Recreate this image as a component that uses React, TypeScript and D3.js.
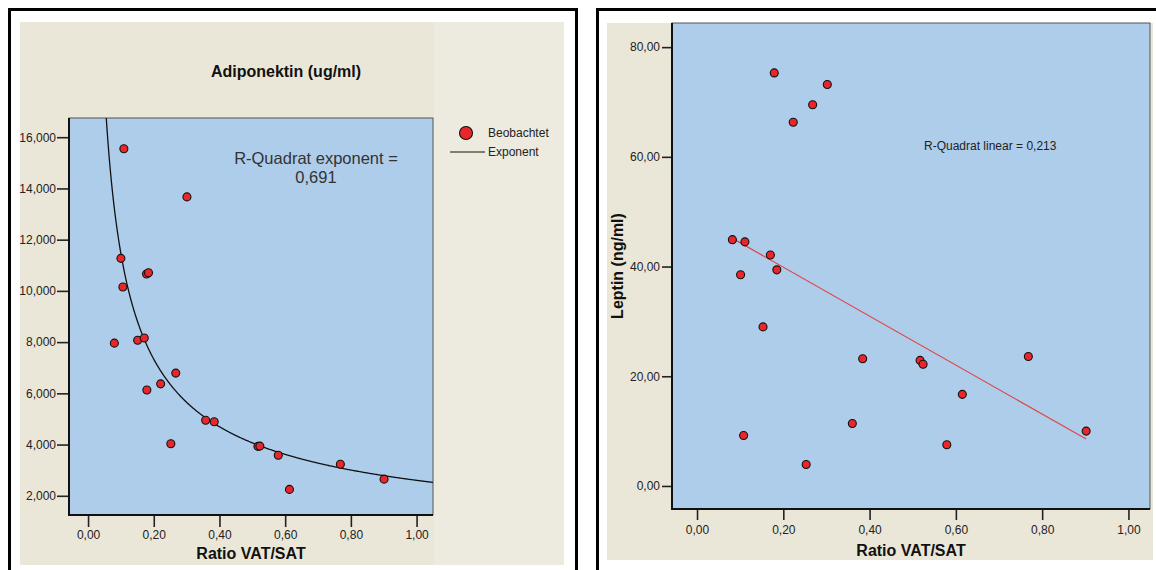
import * as d3 from 'd3';
import { useEffect, useRef } from 'react';

// Adiponektin vs Ratio VAT/SAT
const ratioAdipo = [0.109, 0.301, 0.1, 0.178, 0.184, 0.106, 0.08, 0.151, 0.171, 0.179, 0.221, 0.267, 0.252, 0.358, 0.384, 0.517, 0.523, 0.579, 0.613, 0.768, 0.901];
const adiponektin = [15.55, 13.67, 11.27, 10.66, 10.71, 10.15, 7.96, 8.07, 8.16, 6.13, 6.37, 6.79, 4.03, 4.95, 4.89, 3.93, 3.94, 3.58, 2.25, 3.23, 2.65];

// Leptin vs Ratio VAT/SAT
const ratioLeptin = [0.179, 0.302, 0.268, 0.223, 0.082, 0.111, 0.17, 0.101, 0.185, 0.153, 0.384, 0.517, 0.524, 0.768, 0.615, 0.36, 0.902, 0.108, 0.579, 0.253];
const leptin = [75.3, 73.2, 69.5, 66.3, 44.9, 44.5, 42.1, 38.5, 39.4, 29.0, 23.2, 22.9, 22.2, 23.6, 16.7, 11.4, 10.0, 9.2, 7.5, 3.9];

const ratioTicks = [0, 0.2, 0.4, 0.6, 0.8, 1.0];
const adipoTicks = [2, 4, 6, 8, 10, 12, 14, 16];
const leptinTicks = [0, 20, 40, 60, 80];

const FONT = "'Liberation Sans', Arial, sans-serif";
const BLUE = '#aecdeb';
const BEIGE = '#ebe7d8';
const RED = '#e8262b';

const comma = (spec) => (v) => d3.format(spec)(v).replace('.', ',');

export default function App() {
  const chartRef = useRef(null);

  useEffect(() => {
    const svg = d3.select(chartRef.current);
    svg.selectAll('*').remove();

    // ---------- frames ----------
    svg.append('rect').attr('x', 9.5).attr('y', 9.5).attr('width', 567).attr('height', 600)
      .style('fill', 'none').style('stroke', '#000').style('stroke-width', 3);
    svg.append('rect').attr('x', 20).attr('y', 22).attr('width', 544).attr('height', 543).style('fill', BEIGE);
    svg.append('rect').attr('x', 434).attr('y', 22).attr('width', 130).attr('height', 543).style('fill', '#edeadf');

    svg.append('rect').attr('x', 597.5).attr('y', 9.5).attr('width', 600).attr('height', 600)
      .style('fill', 'none').style('stroke', '#000').style('stroke-width', 3);
    svg.append('rect').attr('x', 607).attr('y', 23).attr('width', 546).attr('height', 537).style('fill', BEIGE);

    const drawAxes = (g, x, y, yTicks, yFmt, opt) => {
      const [x0, x1] = x.range();
      const [y0, y1] = y.range();
      g.append('rect').attr('x', x0).attr('y', y1).attr('width', x1 - x0).attr('height', y0 - y1)
        .style('fill', BLUE).style('stroke', '#555').style('stroke-width', 1);

      const ya = g.append('g').attr('transform', `translate(${x0},0)`)
        .call(d3.axisLeft(y).tickValues(yTicks).tickSize(opt.yTick).tickPadding(opt.yPad).tickFormat(yFmt));
      const xa = g.append('g').attr('transform', `translate(0,${y0})`)
        .call(d3.axisBottom(x).tickValues(ratioTicks).tickSize(opt.xTick).tickPadding(opt.xPad).tickFormat(comma('.2f')));
      [ya, xa].forEach((a) => {
        a.select('.domain').remove();
        a.selectAll('line').style('stroke', '#222').style('stroke-width', 1.6);
        a.selectAll('text').style('font-family', FONT).style('font-size', '12px').style('fill', '#222');
      });

      g.append('line').attr('x1', x0).attr('x2', x0).attr('y1', y1).attr('y2', y0 + 1)
        .style('stroke', '#111').style('stroke-width', 2);
      g.append('line').attr('x1', x0 - 1).attr('x2', x1).attr('y1', y0).attr('y2', y0)
        .style('stroke', '#111').style('stroke-width', 2);

      g.append('text').attr('x', (x0 + x1) / 2).attr('y', opt.xTitleY).attr('text-anchor', 'middle')
        .style('font-family', FONT).style('font-size', '16px').style('font-weight', 'bold').style('fill', '#111')
        .text('Ratio VAT/SAT');
    };

    const drawDots = (g, x, y, xs, ys) => {
      g.selectAll('.dot').data(xs).enter().append('circle')
        .attr('cx', (d) => x(d)).attr('cy', (d, i) => y(ys[i])).attr('r', 4)
        .style('fill', RED).style('stroke', '#111').style('stroke-width', 1.1);
    };

    // ---------- left: Adiponektin ----------
    const xL = d3.scaleLinear().domain([-0.058, 1.05]).range([69, 433]);
    const yL = d3.scaleLinear().domain([1.25, 16.75]).range([515, 118]);
    const gL = svg.append('g');
    drawAxes(gL, xL, yL, adipoTicks, comma('.3f'), { yTick: 12, yPad: 1, xTick: 12, xPad: 3.8, xTitleY: 559 });

    svg.append('text').attr('x', 286).attr('y', 77).attr('text-anchor', 'middle')
      .style('font-family', FONT).style('font-size', '16px').style('font-weight', 'bold').style('fill', '#111')
      .text('Adiponektin (ug/ml)');

    // power fit y = a * x^b via log-log least squares
    const lx = ratioAdipo.map(Math.log);
    const ly = adiponektin.map(Math.log);
    const mx = d3.mean(lx), my = d3.mean(ly);
    const b = d3.sum(lx, (v, i) => (v - mx) * (ly[i] - my)) / d3.sum(lx, (v) => (v - mx) ** 2);
    const a = Math.exp(my - b * mx);

    gL.append('clipPath').attr('id', 'clipL').append('rect')
      .attr('x', 69).attr('y', 118).attr('width', 364).attr('height', 397);
    const curveX = d3.range(0.03, 1.0501, 0.002);
    gL.append('path').datum(curveX).attr('clip-path', 'url(#clipL)')
      .attr('d', d3.line().x((d) => xL(d)).y((d) => yL(a * Math.pow(d, b))))
      .style('fill', 'none').style('stroke', '#111').style('stroke-width', 1.3);

    drawDots(gL, xL, yL, ratioAdipo, adiponektin);

    gL.append('text').attr('x', 316).attr('y', 164).attr('text-anchor', 'middle')
      .style('font-family', FONT).style('font-size', '16.5px').style('fill', '#333').text('R-Quadrat exponent =');
    gL.append('text').attr('x', 316).attr('y', 183).attr('text-anchor', 'middle')
      .style('font-family', FONT).style('font-size', '16.5px').style('fill', '#333').text('0,691');

    // legend
    gL.append('circle').attr('cx', 466).attr('cy', 133).attr('r', 6.5)
      .style('fill', RED).style('stroke', '#111').style('stroke-width', 1.1);
    gL.append('text').attr('x', 488).attr('y', 137).style('font-family', FONT).style('font-size', '12px')
      .style('fill', '#222').text('Beobachtet');
    gL.append('line').attr('x1', 450).attr('x2', 485).attr('y1', 152).attr('y2', 152)
      .style('stroke', '#111').style('stroke-width', 1.2);
    gL.append('text').attr('x', 488).attr('y', 156).style('font-family', FONT).style('font-size', '12px')
      .style('fill', '#222').text('Exponent');

    // ---------- right: Leptin ----------
    const xR = d3.scaleLinear().domain([-0.058, 1.05]).range([672, 1150]);
    const yR = d3.scaleLinear().domain([-4.2, 84.4]).range([509, 23]);
    const gR = svg.append('g');
    drawAxes(gR, xR, yR, leptinTicks, comma('.2f'), { yTick: 10, yPad: 2, xTick: 11, xPad: 5.8, xTitleY: 556 });

    gR.append('text').attr('transform', `translate(623,${(23 + 509) / 2}) rotate(-90)`).attr('text-anchor', 'middle')
      .style('font-family', FONT).style('font-size', '16px').style('font-weight', 'bold').style('fill', '#111')
      .text('Leptin (ng/ml)');

    // linear fit
    const rmx = d3.mean(ratioLeptin), rmy = d3.mean(leptin);
    const slope = d3.sum(ratioLeptin, (v, i) => (v - rmx) * (leptin[i] - rmy)) / d3.sum(ratioLeptin, (v) => (v - rmx) ** 2);
    const icpt = rmy - slope * rmx;
    const [fx0, fx1] = d3.extent(ratioLeptin);
    gR.append('line').attr('x1', xR(fx0)).attr('y1', yR(icpt + slope * fx0))
      .attr('x2', xR(fx1)).attr('y2', yR(icpt + slope * fx1))
      .style('stroke', '#e04848').style('stroke-width', 1.2);

    drawDots(gR, xR, yR, ratioLeptin, leptin);

    gR.append('text').attr('x', 924).attr('y', 150)
      .style('font-family', FONT).style('font-size', '12px').style('fill', '#222').text('R-Quadrat linear = 0,213');
  }, []);

  return (
    <svg ref={chartRef} width={1156} height={570}
      style={{ position: 'absolute', left: 0, top: 0, background: '#fff', display: 'block' }}></svg>
  );
}
